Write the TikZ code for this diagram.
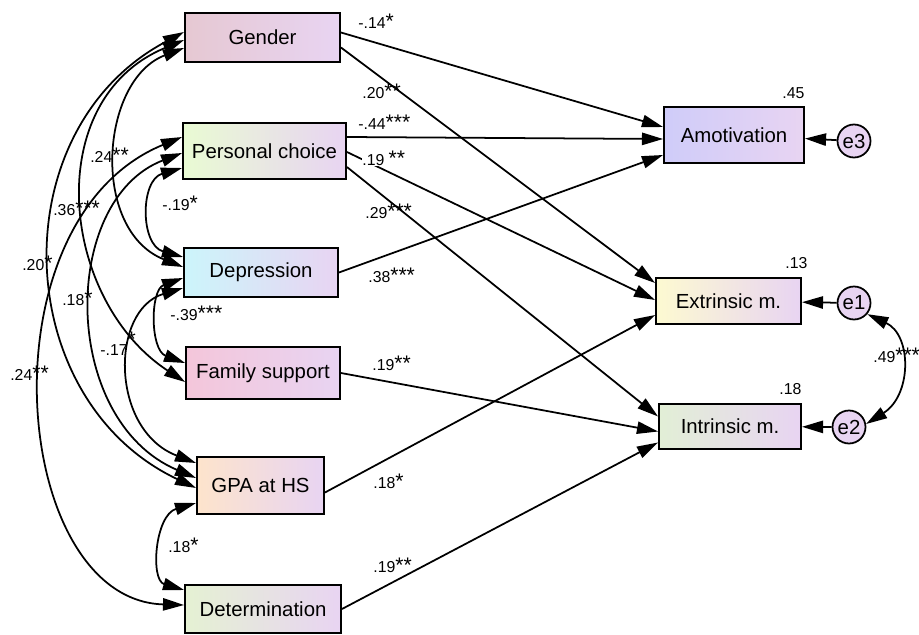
\documentclass[tikz,border=0pt]{standalone}
\usepackage{fontspec}
\setmainfont{Liberation Sans}
\usetikzlibrary{positioning,calc,arrows.meta}
\definecolor{lav}{HTML}{E8D4F2}
\definecolor{cGender}{HTML}{E6C8D2}
\definecolor{cChoice}{HTML}{E9FBD3}
\definecolor{cDep}{HTML}{CCF5FB}
\definecolor{cFam}{HTML}{F4C6DA}
\definecolor{cGpa}{HTML}{FDE4CC}
\definecolor{cDet}{HTML}{E5F1D3}
\definecolor{cAmot}{HTML}{CFCCF9}
\definecolor{cExt}{HTML}{FDFAD1}
\definecolor{cInt}{HTML}{E2EFD6}
\newcommand{\st}[1]{{\fontsize{12}{12}\selectfont #1}}

\begin{document}
\begin{tikzpicture}[x=0.02cm, y=-0.02cm,
  var/.style={draw=black, line width=1.1pt, inner sep=0pt, right color=lav, font=\fontsize{11.6}{13}\selectfont},
  err/.style={circle, draw=black, line width=1pt, fill=lav, minimum size=0.66cm, inner sep=0pt, font=\fontsize{11.6}{13}\selectfont},
  path/.style={line width=1pt, -{Triangle[length=12pt,width=7pt]}},
  cov/.style={line width=1pt, {Triangle[length=12pt,width=7pt]}-{Triangle[length=12pt,width=7pt]}},
  coef/.style={anchor=base west, inner sep=0pt, font=\fontsize{9}{10}\selectfont}]
\path[use as bounding box, fill=white] (0,0) rectangle (919,635);

% observed variables
\node[var, left color=cGender, minimum width=3.1cm, minimum height=0.98cm] (gender) at (262.5,37.5) {Gender};
\node[var, left color=cChoice, minimum width=3.26cm, minimum height=1.12cm] (choice) at (264.5,151) {Personal choice};
\node[var, left color=cDep, minimum width=3.08cm, minimum height=0.98cm] (depr) at (261,272.5) {Depression};
\node[var, left color=cFam, minimum width=3.08cm, minimum height=1.04cm] (family) at (263,373) {Family support};
\node[var, left color=cGpa, minimum width=2.54cm, minimum height=1.14cm] (gpa) at (260.5,485.5) {GPA at HS};
\node[var, left color=cDet, minimum width=3.12cm, minimum height=0.96cm] (determ) at (263,609) {Determination};
\node[var, left color=cAmot, minimum width=2.8cm, minimum height=1.12cm] (amot) at (734,135) {Amotivation};
\node[var, left color=cExt, minimum width=2.9cm, minimum height=0.92cm] (extr) at (728.5,301) {Extrinsic m.};
\node[var, left color=cInt, minimum width=2.84cm, minimum height=0.9cm] (intr) at (730,426.5) {Intrinsic m.};

% residuals
\node[err] (e3) at (854,141) {e3};
\node[err] (e1) at (854,303) {e1};
\node[err] (e2) at (849,427) {e2};

% regression paths
\draw[path] ($(gender.east)+(0,-5)$) -- ($(amot.west)+(0,-8)$);
\draw[path] ($(gender.east)+(0,10)$) -- ($(extr.west)+(0,-18)$);
\draw[path] ($(choice.east)+(0,-14)$) -- ($(amot.west)+(0,4)$);
\draw[path] ($(choice.east)+(0,1)$) -- ($(extr.west)+(0,-1)$);
\draw[path] ($(choice.east)+(0,16)$) -- ($(intr.west)+(0,-10)$);
\draw[path] (depr.east) -- ($(amot.west)+(0,20)$);
\draw[path] (family.east) -- ($(intr.west)+(0,5)$);
\draw[path] ($(gpa.east)+(0,7)$) -- ($(extr.west)+(0,14)$);
\draw[path] (determ.east) -- ($(intr.west)+(0,16)$);
\draw[path] (e3) -- (amot);
\draw[path] (e1) -- (extr);
\draw[path] (e2) -- (intr);

% correlations
\draw[cov] ($(gender.west)+(0,-5.5)$) .. controls (0,130) and (10,400) .. ($(gpa.west)+(0,2.5)$);
\draw[cov] ($(gender.west)+(0,2.5)$) .. controls (40,100) and (60,300) .. ($(family.west)+(0,9)$);
\draw[cov] ($(gender.west)+(0,10.5)$) .. controls (100,80) and (90,230) .. ($(depr.west)+(0,-5.5)$);
\draw[cov] ($(choice.west)+(0,17)$) .. controls (140,180) and (140,245) .. ($(depr.west)+(0,-15.5)$);
\draw[cov] ($(choice.west)+(0,2)$) .. controls (60,200) and (60,420) .. ($(gpa.west)+(0,-7.5)$);
\draw[cov] ($(choice.west)+(0,-14)$) .. controls (-20,220) and (10,600) .. ($(determ.west)+(0,-4)$);
\draw[cov] ($(depr.west)+(0,5.5)$) .. controls (150,290) and (150,350) .. ($(family.west)+(0,-10)$);
\draw[cov] ($(depr.west)+(0,15.5)$) .. controls (110,310) and (110,430) .. ($(gpa.west)+(0,-22.5)$);
\draw[cov] ($(gpa.west)+(0,17.5)$) .. controls (155,515) and (150,580) .. ($(determ.west)+(0,-19)$);
\draw[cov] (e1.-40) .. controls (912,335) and (912,395) .. (e2.10);

% coefficients
\node[coef] (bGA) at (358,28.5) {-.14\st{*}};
\node[coef] (bGE) at (362,98.5) {.20\st{**}};
\node[coef] (bPA) at (358,129.5) {-.44\st{***}};
\node[coef, fill=white] (bPE) at (362,165.5) {.19 \st{**}};
\node[coef] (bPI) at (365,218.5) {.29\st{***}};
\node[coef] (bDA) at (368,282.5) {.38\st{***}};
\node[coef] (bFI) at (372,370.5) {.19\st{**}};
\node[coef] (bHE) at (373,488.5) {.18\st{*}};
\node[coef] (bTI) at (373,572.5) {.19\st{**}};
\node[coef] (rA) at (782,98.5) {.45};
\node[coef] (rE) at (785,268.5) {.13};
\node[coef] (rI) at (779,394.5) {.18};
\node[coef] (cE) at (873,362.5) {.49\st{***}};
\node[coef] (cGD) at (90,162.5) {.24\st{**}};
\node[coef] (cGF) at (53,215.5) {.36\st{***}};
\node[coef] (cGH) at (22,270.5) {.20\st{*}};
\node[coef] (cPH) at (62,305.5) {.18\st{*}};
\node[coef] (cPD) at (162,210.5) {-.19\st{*}};
\node[coef] (cDF) at (170,320.5) {-.39\st{***}};
\node[coef] (cDH) at (100,355.5) {-.17\raisebox{5pt}{\st{*}}};
\node[coef] (cPT) at (10,380.5) {.24\st{**}};
\node[coef] (cHT) at (168,552.5) {.18\st{*}};
\end{tikzpicture}
\end{document}
